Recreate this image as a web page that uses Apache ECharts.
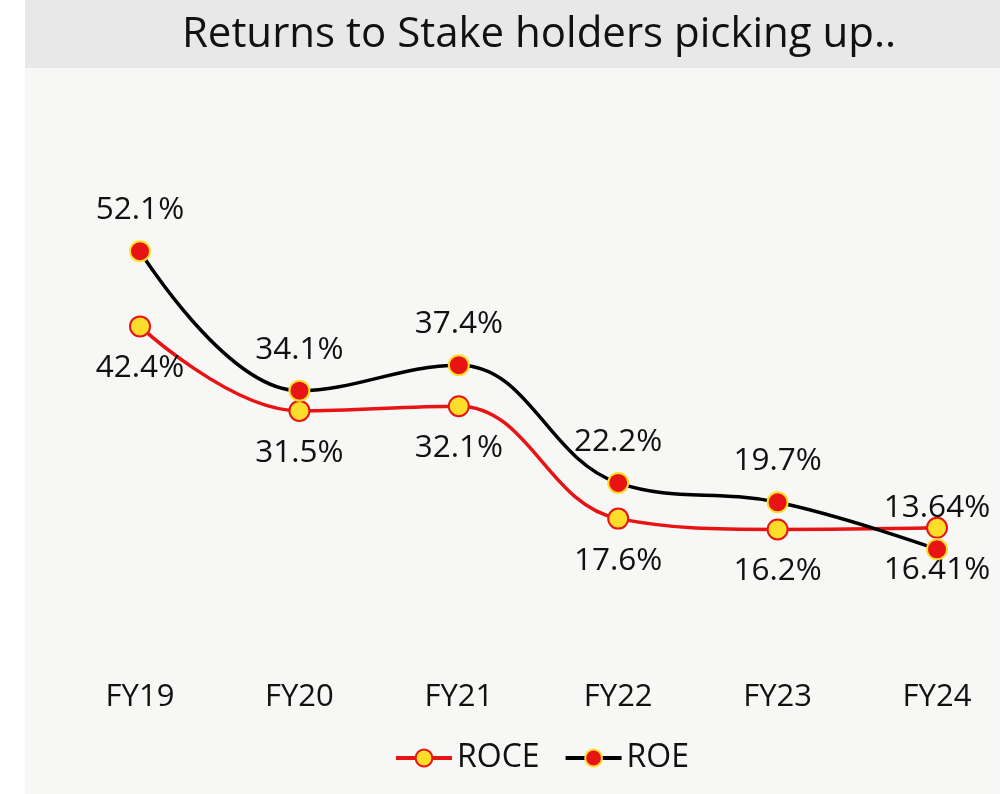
<!DOCTYPE html>
<html>
<head>
<meta charset="utf-8">
<script src="https://cdn.jsdelivr.net/npm/echarts@6/dist/echarts.min.js"></script>
<style>
    html, body { margin: 0; padding: 0; background: #fff; }
    #myCharts { width: 1008px; height: 794px; }
</style>
</head>
<body>
<div id="myCharts"></div>
<script>
    // data
    const years = ['FY19', 'FY20', 'FY21', 'FY22', 'FY23', 'FY24'];
    const roce = [42.4, 31.5, 32.1, 17.6, 16.2, 16.41];
    const roe = [52.1, 34.1, 37.4, 22.2, 19.7, 13.64];

    const myCharts = echarts.init(document.getElementById('myCharts'));
    const font = 'Open Sans';

    let options = {
        animation: false,
        textStyle: { fontFamily: font },
        graphic: [
            {   // title band
                type: 'rect', z: -10,
                shape: { x: 25, y: 0, width: 975, height: 68 },
                style: { fill: '#e8e8e8' }
            },
            {   // plot background
                type: 'rect', z: -10,
                shape: { x: 25, y: 68, width: 975, height: 726 },
                style: { fill: '#f7f7f6' }
            }
        ],
        title: {
            text: 'Returns to Stake holders picking up..',
            left: 534, top: 9, textAlign: 'center',
            textStyle: { fontFamily: font, fontSize: 42, fontWeight: 400, color: '#111' }
        },
        legend: {
            bottom: 15,
            left: 389,
            itemWidth: 56,
            itemHeight: 21,
            itemGap: 24,
            lineStyle: { width: 4 },
            textStyle: { fontFamily: font, fontSize: 32, color: '#111' },
            data: ['ROCE', 'ROE']
        },
        grid: { left: 140, right: 71, top: 190, bottom: 139 },
        xAxis: {
            type: 'category',
            boundaryGap: false,
            data: years,
            axisLine: { show: false },
            axisTick: { show: false },
            axisLabel: { margin: 27, fontSize: 31, color: '#111', fontFamily: font }
        },
        yAxis: {
            type: 'value',
            min: 0, max: 60,
            show: false,
            splitLine: { show: false }
        },
        series: [
            {
                name: 'ROCE',
                type: 'line',
                smooth: 0.4,
                symbol: 'circle',
                symbolSize: 20,
                lineStyle: { color: '#e81414', width: 3.5 },
                itemStyle: { color: '#fbdd2a', borderColor: '#e81414', borderWidth: 2 },
                label: {
                    show: true, position: 'bottom', distance: 15,
                    formatter: p => p.value + '%',
                    fontSize: 31.5, color: '#111', fontFamily: font
                },
                z: 2,
                data: roce
            },
            {
                name: 'ROE',
                type: 'line',
                smooth: 0.4,
                symbol: 'circle',
                symbolSize: 20,
                lineStyle: { color: '#000', width: 3.5 },
                itemStyle: { color: '#e81414', borderColor: '#fbdd2a', borderWidth: 2 },
                label: {
                    show: true, position: 'top', distance: 14,
                    formatter: p => p.value + '%',
                    fontSize: 31.5, color: '#111', fontFamily: font
                },
                z: 3,
                data: roe
            }
        ]
    };
    myCharts.setOption(options);
</script>
</body>
</html>
